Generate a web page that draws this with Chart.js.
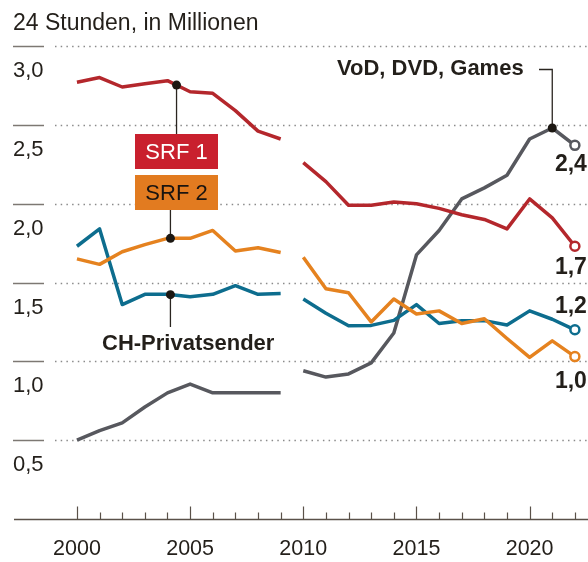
<!DOCTYPE html>
<html>
<head>
<meta charset="utf-8">
<script src="https://cdn.jsdelivr.net/npm/chart.js@4"></script>
<style>
  html, body { margin: 0; padding: 0; background: #fff; }
  #wrap { width: 588px; height: 562px; position: relative; }
</style>
</head>
<body>
<div id="wrap"><canvas id="c" width="588" height="562"></canvas></div>
<script>
// ---- data ----
const years = [2000,2001,2002,2003,2004,2005,2006,2007,2008,2009,2010,2011,2012,2013,2014,2015,2016,2017,2018,2019,2020,2021,2022];
const srf1     = [2.77,2.80,2.74,2.76,2.78,2.71,2.70,2.59,2.46,2.41, 2.26,2.14,1.99,1.99,2.01,2.00,1.97,1.93,1.90,1.84,2.03,1.91,1.73];
const srf2     = [1.65,1.615,1.695,1.74,1.78,1.78,1.83,1.70,1.72,1.69, 1.66,1.46,1.435,1.25,1.395,1.30,1.32,1.24,1.27,1.145,1.025,1.13,1.03];
const chPrivat = [1.73,1.84,1.36,1.425,1.425,1.41,1.425,1.48,1.425,1.43, 1.395,1.305,1.226,1.228,1.26,1.36,1.24,1.258,1.258,1.23,1.32,1.267,1.20];
const vod      = [0.50,0.56,0.61,0.71,0.80,0.856,0.80,0.80,0.80,0.80, 0.94,0.90,0.92,0.99,1.18,1.675,1.83,2.03,2.10,2.18,2.41,2.48,2.37];
const seriesNames = ['SRF 1','SRF 2','CH-Privatsender','VoD, DVD, Games'];
const endLabels = ['1,7','1,0','1,2','2,4'];
const yTicks = [0.5,1.0,1.5,2.0,2.5,3.0];
const yTickLabels = ['0,5','1,0','1,5','2,0','2,5','3,0'];
const xLabelYears = [2000,2005,2010,2015,2020];
const title = '24 Stunden, in Millionen';
const breakAfterYear = 2009;

const COLORS = { srf1:'#b4272c', srf2:'#e5821f', ch:'#0d6d8e', vod:'#57585e', text:'#231f1a', axis:'#5a5149', grid:'#8b8b8b' };
const FONT = "'Liberation Sans', Arial, sans-serif";

function pts(vals){ return years.map((y,i)=>({x:y, y:vals[i]})); }
const last = years.length - 1;
function mk(label, vals, color){
  return {
    label, data: pts(vals), borderColor: color, backgroundColor: color,
    borderWidth: 3.5, tension: 0, borderJoinStyle: 'round', borderCapStyle: 'butt',
    pointRadius: ctx => ctx.dataIndex === last ? 4.5 : 0,
    pointHoverRadius: ctx => ctx.dataIndex === last ? 4.5 : 0,
    pointBorderWidth: 2.5, pointBackgroundColor: '#fff', pointBorderColor: color,
    segment: { borderColor: ctx => ctx.p0.parsed.x === breakAfterYear ? 'rgba(0,0,0,0)' : undefined },
    clip: false
  };
}

function interp(vals, yr){
  const i = Math.floor(yr - years[0]);
  const f = yr - years[0] - i;
  return vals[i] + (vals[Math.min(i+1,last)] - vals[i]) * f;
}

const decor = {
  id: 'decor',
  beforeDatasetsDraw(chart){
    const ctx = chart.ctx, xs = chart.scales.x, ys = chart.scales.y;
    ctx.save();
    // title
    ctx.fillStyle = COLORS.text;
    ctx.font = '23px ' + FONT;
    ctx.textAlign = 'left'; ctx.textBaseline = 'alphabetic';
    ctx.fillText(title, 13, 30);
    // y gridlines + labels
    yTicks.forEach((v,i)=>{
      const y = Math.round(ys.getPixelForValue(v)) + 0.5;
      ctx.strokeStyle = '#7d7873'; ctx.lineWidth = 1.5; ctx.setLineDash([]);
      ctx.beginPath(); ctx.moveTo(13, y); ctx.lineTo(44, y); ctx.stroke();
      ctx.strokeStyle = COLORS.grid; ctx.lineWidth = 1.5; ctx.setLineDash([1.5, 4.2]);
      ctx.beginPath(); ctx.moveTo(chart.chartArea.left, y); ctx.lineTo(chart.width, y); ctx.stroke();
      ctx.setLineDash([]);
      ctx.fillStyle = COLORS.text; ctx.font = '22px ' + FONT;
      ctx.fillText(yTickLabels[i], 13, y + 30);
    });
    // x axis
    const y0 = Math.round(ys.getPixelForValue(0)) + 0.5;
    ctx.strokeStyle = COLORS.axis; ctx.lineWidth = 1.5;
    ctx.beginPath(); ctx.moveTo(14, y0); ctx.lineTo(chart.width, y0); ctx.stroke();
    ctx.lineWidth = 1.2;
    years.forEach(yr=>{
      const x = Math.round(xs.getPixelForValue(yr)) + 0.5;
      const major = xLabelYears.includes(yr);
      ctx.beginPath(); ctx.moveTo(x, y0); ctx.lineTo(x, y0 - (major ? 13 : 7)); ctx.stroke();
    });
    ctx.fillStyle = COLORS.text; ctx.font = '21.5px ' + FONT; ctx.textAlign = 'center';
    xLabelYears.forEach(yr=>{
      ctx.fillText(String(yr), xs.getPixelForValue(yr), 555);
    });
    ctx.restore();
  },
  afterDatasetsDraw(chart){
    const ctx = chart.ctx, xs = chart.scales.x, ys = chart.scales.y;
    const P = (vals, yr) => ({x: xs.getPixelForValue(yr), y: ys.getPixelForValue(interp(vals, yr))});
    ctx.save();
    ctx.strokeStyle = '#2a2520'; ctx.lineWidth = 1.3; ctx.fillStyle = '#1c1712';
    const dot = p => { ctx.beginPath(); ctx.arc(p.x, p.y, 4.5, 0, Math.PI*2); ctx.fill(); };
    const line = (x1,y1,x2,y2) => { ctx.beginPath(); ctx.moveTo(x1,y1); ctx.lineTo(x2,y2); ctx.stroke(); };

    // SRF 1
    const p1 = P(srf1, 2004.4);
    line(p1.x, p1.y, p1.x, 135);
    dot(p1);
    // SRF 2
    const p2 = P(srf2, 2004.13);
    line(p2.x, 209, p2.x, p2.y);
    dot(p2);
    // CH-Privatsender
    const p3 = P(chPrivat, 2004.13);
    line(p3.x, p3.y, p3.x, 327);
    dot(p3);
    // VoD
    const p4 = P(vod, 2021);
    ctx.beginPath(); ctx.moveTo(539, 69.5); ctx.lineTo(p4.x, 69.5); ctx.lineTo(p4.x, p4.y); ctx.stroke();
    dot(p4);

    // label boxes
    ctx.fillStyle = '#c9202e'; ctx.fillRect(135, 134, 83, 35);
    ctx.fillStyle = '#e27b20'; ctx.fillRect(135, 175, 83, 35);
    ctx.textAlign = 'center'; ctx.textBaseline = 'alphabetic';
    ctx.font = '22px ' + FONT;
    ctx.fillStyle = '#ffffff'; ctx.fillText(seriesNames[0], 176.5, 158.5);
    ctx.fillStyle = '#1a1410'; ctx.fillText(seriesNames[1], 176.5, 199.5);

    ctx.font = 'bold 22px ' + FONT; ctx.fillStyle = COLORS.text;
    ctx.textAlign = 'left';
    ctx.fillText(seriesNames[2], 102, 350);
    ctx.fillText(seriesNames[3], 337, 75);

    // end labels
    const endVals = [srf1, srf2, chPrivat, vod];
    const offs = [28, 31, -17, 26];
    ctx.font = 'bold 23px ' + FONT;
    endVals.forEach((vals,i)=>{
      const x = xs.getPixelForValue(years[last]);
      const y = ys.getPixelForValue(vals[last]);
      ctx.fillText(endLabels[i], x - 20, y + offs[i]);
    });
    ctx.restore();
  }
};

new Chart(document.getElementById('c'), {
  type: 'line',
  data: { datasets: [
    mk(seriesNames[1], srf2, COLORS.srf2),
    mk(seriesNames[2], chPrivat, COLORS.ch),
    mk(seriesNames[0], srf1, COLORS.srf1),
    mk(seriesNames[3], vod, COLORS.vod)
  ]},
  options: {
    responsive: false, animation: false, events: [],
    layout: { padding: { left: 55, right: 0, top: 46, bottom: 43 } },
    plugins: { legend: { display: false }, tooltip: { enabled: false } },
    scales: {
      x: { type: 'linear', min: 1999.03, max: 2022.27, display: false },
      y: { type: 'linear', min: 0, max: 3, display: false }
    }
  },
  plugins: [decor]
});
</script>
</body>
</html>
